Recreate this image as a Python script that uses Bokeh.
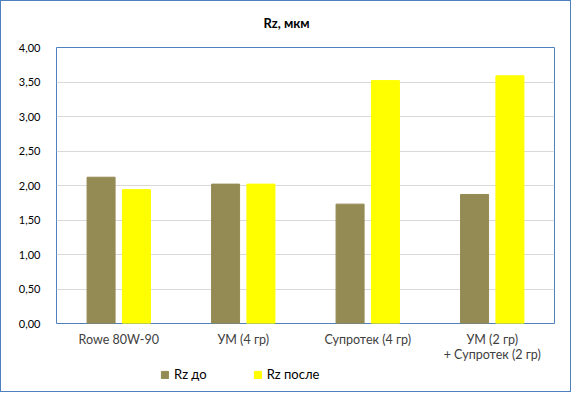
from bokeh.plotting import figure
from bokeh.layouts import column
from bokeh.models import ColumnDataSource, FixedTicker, Label, Legend, LegendItem
from bokeh.transform import dodge
from bokeh.embed import file_html
from bokeh.resources import INLINE

# chart data
categories = ["Rowe 80W-90", "УМ (4 гр)", "Супротек (4 гр)", "УМ (2 гр)\n+ Супротек (2 гр)"]
rz_before = [2.12, 2.02, 1.73, 1.87]
rz_after = [1.94, 2.02, 3.52, 3.59]
y_ticks = [0, 0.5, 1.0, 1.5, 2.0, 2.5, 3.0, 3.5, 4.0]
y_tick_labels = ["0,00", "0,50", "1,00", "1,50", "2,00", "2,50", "3,00", "3,50", "4,00"]

FONT = "Lato"
BAR_BEFORE = "#948A54"
BAR_AFTER = "#FFFF00"
W = 569

source = ColumnDataSource(data=dict(cat=categories, before=rz_before, after=rz_after))

# title strip (its frame lines up with the chart frame inside the column)
head = figure(width=W, height=40, x_range=(0, 1), y_range=(0, 1), min_border=0,
              x_axis_location=None, y_axis_location=None,
              output_backend="svg", toolbar_location=None)
head.grid.grid_line_color = None
head.outline_line_color = None
head.add_layout(Label(x=230, y=19, x_units="screen", y_units="screen", text="Rz, мкм",
                      text_align="center", text_baseline="middle", text_font=FONT,
                      text_font_size="13px", text_font_style="bold", text_color="#000000"))

# main chart
p = figure(
    x_range=categories,
    y_range=(0, 4),
    frame_width=498,
    frame_height=276,
    min_border_left=55,
    min_border_right=16,
    min_border_top=6,
    min_border_bottom=10,
    output_backend="svg",
    toolbar_location=None,
)

p.vbar(x=dodge("cat", -0.142, range=p.x_range), top="before", width=0.225,
       source=source, color=BAR_BEFORE)
p.vbar(x=dodge("cat", 0.142, range=p.x_range), top="after", width=0.225,
       source=source, color=BAR_AFTER)

# frame and grid
p.outline_line_color = "#4F81BD"
p.outline_line_width = 1
p.xgrid.grid_line_color = None
p.ygrid.ticker = FixedTicker(ticks=y_ticks)
p.ygrid.grid_line_color = "#D9D9D9"

# y axis
p.yaxis.ticker = FixedTicker(ticks=y_ticks)
p.yaxis.major_label_overrides = dict(zip(y_ticks, y_tick_labels))
p.yaxis.axis_line_color = None
p.yaxis.major_tick_line_color = None
p.yaxis.minor_tick_line_color = None
p.yaxis.major_label_standoff = 10
p.yaxis.major_label_text_font = FONT
p.yaxis.major_label_text_font_size = "11px"
p.yaxis.major_label_text_color = "#000000"

# x axis
p.xaxis.axis_line_color = None
p.xaxis.major_tick_line_color = None
p.xaxis.major_label_standoff = 2
p.xaxis.major_label_text_font = FONT
p.xaxis.major_label_text_font_size = "12.5px"
p.xaxis.major_label_text_line_height = 1.05
p.xaxis.major_label_text_color = "#404040"

# legend strip under the chart (a small figure so the legend is not clipped);
# the bars here fall outside its y range, only their legend swatches show
leg = figure(width=W, height=26, x_range=categories, y_range=(10, 11), min_border=0,
             x_axis_location=None, y_axis_location=None,
             output_backend="svg", toolbar_location=None)
leg.grid.grid_line_color = None
leg.outline_line_color = None
r_before = leg.vbar(x="cat", top="before", width=0.2, source=source, color=BAR_BEFORE)
r_after = leg.vbar(x="cat", top="after", width=0.2, source=source, color=BAR_AFTER)

legend = Legend(
    items=[LegendItem(label="Rz до", renderers=[r_before]),
           LegendItem(label="Rz после", renderers=[r_after])],
    orientation="horizontal",
    location=(104, 9),
    glyph_width=9,
    glyph_height=9,
    label_height=13,
    label_standoff=5,
    spacing=46,
    padding=0,
    margin=0,
    border_line_color=None,
    background_fill_alpha=0,
    label_text_font=FONT,
    label_text_font_size="13px",
    label_text_color="#000000",
)
leg.add_layout(legend)

# thin blue border round the whole chart
layout = column(head, p, leg, styles={"border": "1px solid #4F81BD", "background": "white"})

open("out.html", "w").write(file_html(layout, INLINE))
